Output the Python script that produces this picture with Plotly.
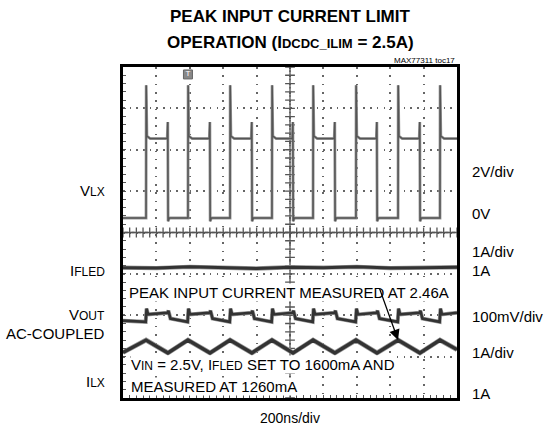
import numpy as np
import plotly.graph_objects as go

# time axis: 10 div x 200ns, vertical: 8 div (0 at bottom)
t_span = 2000
n_div_y = 8

# LX switching edges (ns)
lx_rise = [138, 389, 641, 892, 1138, 1395, 1647, 1898]
lx_fall = [269, 521, 772, 1018, 1269, 1521, 1778]
lx_low, lx_high, lx_spike, lx_over = 4.35, 6.27, 7.56, 6.67

# IFLED, almost flat
ifled_t = [0, 200, 400, 600, 800, 1000, 1200, 1400, 1600, 1800, 2000]
ifled_v = [3.15, 3.14, 3.17, 3.15, 3.13, 3.16, 3.15, 3.17, 3.14, 3.15, 3.16]

# VOUT ac-coupled ripple levels (div)
vout_spike, vout_hi, vout_top, vout_dip, vout_lo = 2.16, 2.02, 2.06, 1.92, 1.84

# ILX triangle
ilx_peak, ilx_valley, ilx_start, ilx_end = 1.40, 1.09, 1.10, 1.17

# trigger marker position
trig_t, trig_y = 389, 7.82

FONT = "Liberation Sans, Arial, sans-serif"
TRACE = "#333333"


def lx_wave():
    xs, ys = [0], [lx_low]
    for i, r in enumerate(lx_rise):
        xs += [r, r + 1, r + 5, r + 25]
        ys += [lx_low, lx_spike, lx_high + 0.06, lx_high]
        if i < len(lx_fall):
            f = lx_fall[i]
            xs += [f - 4, f - 1, f + 1, f + 8]
            ys += [lx_high, lx_over, lx_low - 0.08, lx_low]
        else:
            xs += [t_span]
            ys += [lx_high]
    return xs, ys


def vout_wave():
    xs, ys = [0], [vout_lo + 0.03]
    for i, r in enumerate(lx_rise):
        xs += [r - 2, r + 3, r + 12]
        ys += [vout_lo, vout_spike, vout_hi]
        if i < len(lx_fall):
            f = lx_fall[i]
            xs += [f - 3, f + 3, f + 15]
            ys += [vout_top, vout_top + 0.05, vout_dip]
        else:
            xs += [t_span]
            ys += [vout_top]
    return xs, ys


def ilx_wave():
    xs, ys = [0], [ilx_start]
    for i, r in enumerate(lx_rise):
        xs.append(r)
        ys.append(ilx_peak)
        if i < len(lx_fall):
            xs.append(lx_fall[i])
            ys.append(ilx_valley)
    xs.append(t_span)
    ys.append(ilx_end)
    return xs, ys


fig = go.Figure()

# centre cross-hair with minor ticks
cx = np.arange(0, t_span + 1, 40)
fig.add_trace(go.Scatter(x=cx, y=[4] * len(cx), mode="markers",
                         marker=dict(symbol="cross-thin", size=7, line=dict(width=1.3, color="#555")),
                         hoverinfo="skip"))
cy = np.arange(0, n_div_y + 0.01, 0.2)
fig.add_trace(go.Scatter(x=[1000] * len(cy), y=cy, mode="markers",
                         marker=dict(symbol="cross-thin", size=7, line=dict(width=1.3, color="#555")),
                         hoverinfo="skip"))

for xs, ys, w, c in [lx_wave() + (1.5, "#555"),
                     (ifled_t, ifled_v, 3.0, TRACE),
                     vout_wave() + (2.6, TRACE),
                     ilx_wave() + (3.4, TRACE)]:
    fig.add_trace(go.Scatter(x=xs, y=ys, mode="lines",
                             line=dict(color="#999", width=w + 1.4), hoverinfo="skip"))
    fig.add_trace(go.Scatter(x=xs, y=ys, mode="lines",
                             line=dict(color=c, width=w), hoverinfo="skip"))

# trigger flag
fig.add_trace(go.Scatter(x=[trig_t], y=[trig_y], mode="markers+text", text=["T"],
                         textposition="middle center", textfont=dict(size=8, color="white"),
                         marker=dict(symbol="square", size=9, color="#888", line=dict(width=1, color="#666")),
                         hoverinfo="skip"))

ann = []


def txt(x, y, s, size=15, xanchor="left", **kw):
    # x in ns, y in divisions -> paper coords so labels outside the grid still show
    ann.append(dict(x=x / t_span, y=y / n_div_y, xref="paper", yref="paper", text=s, showarrow=False,
                    xanchor=xanchor, yanchor="middle",
                    font=dict(family=FONT, size=size, color="black"), **kw))


sub = "<span style='font-size:12px'>%s</span>"
# right side scale labels
rx = 2078
txt(rx, 5.48, "2V/div")
txt(rx, 4.47, "0V")
txt(rx, 3.53, "1A/div")
txt(rx, 3.07, "1A")
txt(rx, 1.98, "100mV/div")
txt(rx, 1.09, "1A/div")
txt(rx, 0.12, "1A")
# left channel names
lx_ = -96
txt(lx_, 5.02, "V" + sub % "LX", xanchor="right")
txt(lx_, 3.07, "I" + sub % "FLED", xanchor="right")
txt(lx_, 2.03, "V" + sub % "OUT", xanchor="right")
txt(lx_, 1.57, "AC-COUPLED", xanchor="right")
txt(lx_, 0.39, "I" + sub % "LX", xanchor="right")
# inside notes
txt(30, 2.54, "PEAK INPUT CURRENT MEASURED AT 2.46A", bgcolor="white", borderpad=0)
txt(42, 0.80, "V" + sub % "IN" + " = 2.5V, I" + sub % "FLED" + " SET TO 1600mA AND", bgcolor="white", borderpad=0)
txt(42, 0.29, "MEASURED AT 1260mA", bgcolor="white", borderpad=0)
txt(1000, -0.48, "200ns/div", size=14, xanchor="center")
txt(2000, 8.15, "MAX77311 toc17", size=8, xanchor="right")
# title
title_sub = "<span style='font-size:13px'>%s</span>"
txt(1000, 9.22, "<b>PEAK INPUT CURRENT LIMIT</b>", size=17, xanchor="center")
txt(1000, 8.6, "<b>OPERATION (I" + title_sub % "DCDC_ILIM" + " = 2.5A)</b>", size=17, xanchor="center")
# arrow to the ILX peak
ann.append(dict(x=1647, y=ilx_peak, xref="x", yref="y", ax=1533, ay=2.68, axref="x", ayref="y",
                showarrow=True, arrowhead=2, arrowsize=1.6, arrowwidth=1.3, arrowcolor="black",
                standoff=0, text=""))

fig.update_layout(
    width=545, height=432,
    margin=dict(l=123, r=88, t=67, b=34),
    paper_bgcolor="white", plot_bgcolor="white",
    showlegend=False,
    font=dict(family=FONT, size=15, color="black"),
    annotations=ann,
)
fig.update_xaxes(range=[0, t_span], dtick=200, showticklabels=False,
                 showgrid=True, gridcolor="#666", gridwidth=1.6, griddash="1.6px,6.75px",
                 zeroline=False, showline=True, linecolor="black", linewidth=3, mirror=True,
                 ticks="inside", ticklen=3, tickcolor="#555",
                 minor=dict(dtick=40, ticks="inside", ticklen=3, tickcolor="#555", showgrid=False))
fig.update_yaxes(range=[0, n_div_y], dtick=1, showticklabels=False,
                 showgrid=True, gridcolor="#666", gridwidth=1.6, griddash="1.6px,5.08px",
                 zeroline=False, showline=True, linecolor="black", linewidth=3, mirror=True,
                 ticks="inside", ticklen=3, tickcolor="#555",
                 minor=dict(dtick=0.2, ticks="inside", ticklen=3, tickcolor="#555", showgrid=False))

fig.write_html("out.html", config={"displayModeBar": False},
               post_script="document.body.style.margin='0';")
